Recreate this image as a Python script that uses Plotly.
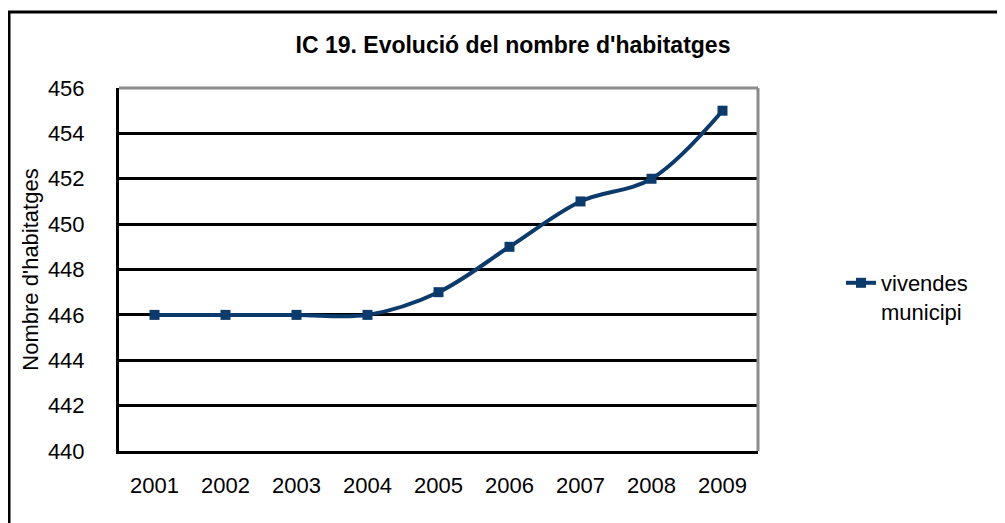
import plotly.graph_objects as go

years = ["2001", "2002", "2003", "2004", "2005", "2006", "2007", "2008", "2009"]
vivendes = [446, 446, 446, 446, 447, 449, 451, 452, 455]
y_ticks = [440, 442, 444, 446, 448, 450, 452, 454, 456]

title_text = "IC 19. Evolució del nombre d'habitatges"
y_title = "Nombre d'habitatges"
series_name = "vivendes<br>municipi"

navy = "#0B3A6C"
font_family = "Liberation Sans, Arial, sans-serif"
FS = 22

# page body has an 8px margin, so figure coordinates = window - 8
L, R, T, B = 111, 255, 80, 80
W, H = 1005, 523
pw, ph = W - L - R, H - T - B

fig = go.Figure()
fig.add_trace(go.Scatter(
    x=years, y=vivendes, name=series_name,
    mode="lines+markers",
    line=dict(color=navy, width=4, shape="spline", smoothing=1.0),
    marker=dict(symbol="square", size=10, color=navy),
))

fig.update_layout(
    width=W, height=H,
    margin=dict(l=L, r=R, t=T, b=B),
    paper_bgcolor="white", plot_bgcolor="white",
    font=dict(family=font_family, color="black", size=FS),
    title=dict(text="<b>" + title_text + "</b>", x=(505 - L) / pw, xref="paper",
               xanchor="center", y=1 - 37 / H, yanchor="middle",
               font=dict(size=23, family=font_family, color="black")),
    showlegend=True,
    legend=dict(x=(833 - L) / pw, y=(H - B - 254) / ph, xanchor="left", yanchor="top",
                bgcolor="rgba(0,0,0,0)", font=dict(size=FS), valign="top",
                tracegroupgap=0),
    xaxis=dict(type="category", range=[-0.5, 8.5], showgrid=False,
               showline=True, linecolor="black", linewidth=3,
               ticks="", tickfont=dict(size=FS), ticklabelstandoff=13),
    yaxis=dict(range=[440, 456], tickvals=y_ticks, showgrid=True,
               gridcolor="black", gridwidth=3, zeroline=False,
               showline=True, linecolor="black", linewidth=3,
               ticks="outside", ticklen=27, tickcolor="rgba(0,0,0,0)",
               tickfont=dict(size=FS),
               title=dict(text=y_title, font=dict(size=FS), standoff=4)),
    shapes=[
        dict(type="line", xref="paper", yref="paper", x0=0, x1=1, y0=1, y1=1,
             line=dict(color="#8C8C8C", width=3), layer="above"),
        dict(type="line", xref="paper", yref="paper", x0=1, x1=1, y0=0, y1=1,
             line=dict(color="#8C8C8C", width=3), layer="above"),
        dict(type="rect", xref="paper", yref="paper",
             x0=(1 - L) / pw, x1=(1010 - L) / pw,
             y0=(H - B - 540) / ph, y1=(H - B - 4) / ph,
             line=dict(color="black", width=3), fillcolor="rgba(0,0,0,0)",
             layer="above"),
    ],
)

fig.write_html("out.html")
